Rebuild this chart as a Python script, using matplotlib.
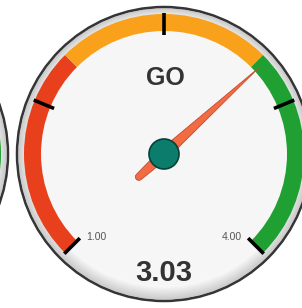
import numpy as np
import matplotlib
matplotlib.use("Agg")
import matplotlib.pyplot as plt
from matplotlib.patches import Circle, Wedge, Polygon

plt.rcParams['font.family'] = ['Liberation Sans', 'DejaVu Sans']

# gauge data
min_val, max_val = 1.0, 4.0
value = 3.03
band_edges = [1.0, 2.0, 3.0, 4.0]
band_colors = ['#e8401c', '#f9a11b', '#20a032']
tick_values = [1.0, 1.75, 2.5, 3.25, 4.0]
end_labels = ['1.00', '4.00']
title = 'GO'

fig = plt.figure(figsize=(3.02, 3.08), dpi=100)
ax = fig.add_axes([0, 0, 1, 1])
ax.set_xlim(0, 302)
ax.set_ylim(0, 308)
ax.axis('off')

R_OUT = 147
R_BAND_O, R_BAND_I = 140, 123


def ang(v):
    # 270 degree sweep, min at lower left, max at lower right
    return 225 - (v - min_val) / (max_val - min_val) * 270


def draw_face(cx, cy):
    ax.add_patch(Circle((cx, cy), R_OUT, facecolor='#c4c4c4', edgecolor='#353535', lw=1.8, zorder=1))
    # soft shading towards the rim (a bit heavier at the bottom)
    n = 14
    for k in range(n):
        g = 0.80 + 0.17 * k / (n - 1)
        ax.add_patch(Circle((cx, cy + 0.15 * k), R_OUT - 1.5 - k * 0.8,
                            facecolor=(g, g, g), edgecolor='none', zorder=1))
    ax.add_patch(Circle((cx, cy + 2.2), 133, facecolor='#f6f6f6', edgecolor='none', zorder=1))
    for i, c in enumerate(band_colors):
        ax.add_patch(Wedge((cx, cy), R_BAND_O, ang(band_edges[i + 1]), ang(band_edges[i]),
                           width=R_BAND_O - R_BAND_I, facecolor=c, edgecolor='none', zorder=2))
    for v in tick_values:
        a = np.radians(ang(v))
        ax.plot([cx + 119 * np.cos(a), cx + 141 * np.cos(a)],
                [cy + 119 * np.sin(a), cy + 141 * np.sin(a)],
                color='black', lw=2.6, solid_capstyle='butt', zorder=3)


# neighbouring gauge, only its right edge shows
draw_face(-139, 154)

cx, cy = 164, 154
draw_face(cx, cy)

for v, lab, da in zip([min_val, max_val], end_labels, [6, -6]):
    a = np.radians(ang(v) + da)
    ax.text(cx + 107 * np.cos(a), cy + 107 * np.sin(a), lab, fontsize=7.5,
            color='#555555', ha='center', va='center', zorder=3)

ax.text(165, 230, title, fontsize=18, fontweight='bold', color='#333333',
        ha='center', va='center', zorder=3)
ax.text(164, 35, f'{value:.2f}', fontsize=21, fontweight='bold', color='#333333',
        ha='center', va='center', zorder=3)

# needle
pts = [(128, 0), (0, 5.5), (-34, 3.5)]
for t in np.linspace(90, 270, 9):
    pts.append((-34 + 3.5 * np.cos(np.radians(t)), 3.5 * np.sin(np.radians(t))))
pts += [(-34, -3.5), (0, -5.5)]
pts = np.array(pts)
a = np.radians(ang(value))
rot = np.array([[np.cos(a), -np.sin(a)], [np.sin(a), np.cos(a)]])
pts = pts @ rot.T + [cx, cy]
ax.add_patch(Polygon(pts, closed=True, facecolor='#f26b43', edgecolor='#c44a2c', lw=0.6, zorder=4))
ax.add_patch(Circle((cx, cy), 15, facecolor='#0b7d6c', edgecolor='#083f37', lw=1.2, zorder=5))

fig.savefig('out.png', dpi=100)
